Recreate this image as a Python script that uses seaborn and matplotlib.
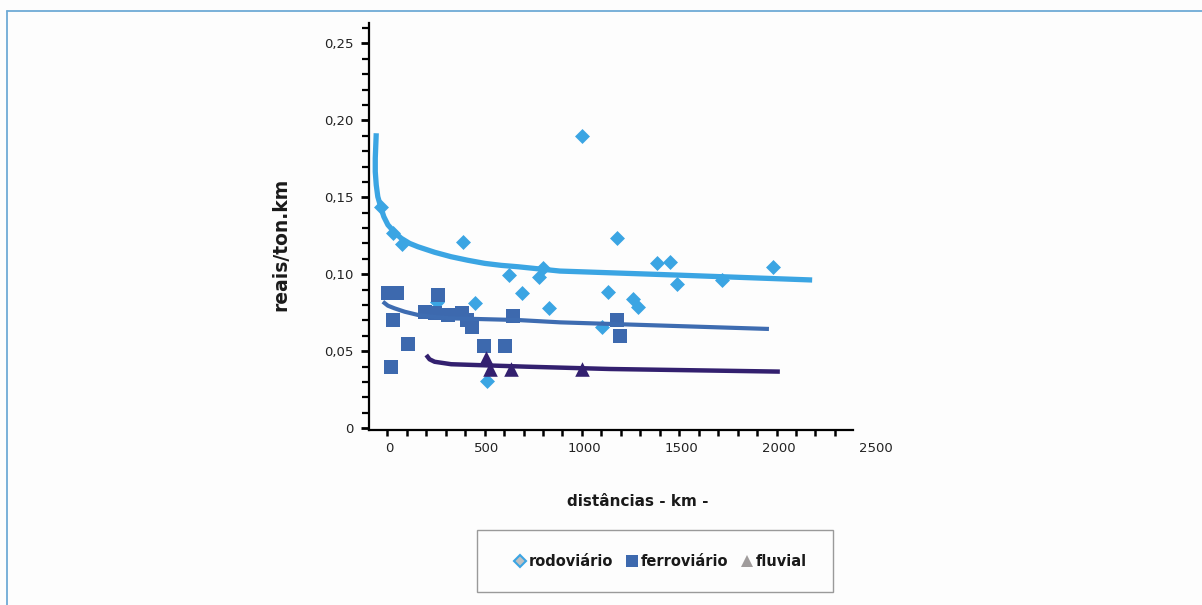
import matplotlib
matplotlib.use("Agg")
import matplotlib.pyplot as plt
import seaborn as sns
import pandas as pd
from matplotlib.lines import Line2D
from matplotlib.patches import Rectangle

# pontos (km, reais/ton.km)
rodo_km = [-40, 20, 63, 380, 615, 769, 788, 680, 440, 820, 246, 500, 1094, 1122,
           988, 1168, 1374, 1442, 1253, 1276, 1481, 1708, 1970]
rodo_custo = [0.1435, 0.1266, 0.1197, 0.1212, 0.0995, 0.0984, 0.1043, 0.0877, 0.0812,
              0.0779, 0.0822, 0.0307, 0.0660, 0.0887, 0.1900, 0.1238, 0.1071, 0.1078,
              0.0838, 0.0790, 0.0937, 0.0963, 0.1045]

ferro_km = [-6, 38, 251, 20, 94, 7, 183, 234, 303, 372, 397, 423, 634, 486, 594, 1168, 1185]
ferro_custo = [0.0877, 0.0877, 0.0866, 0.0703, 0.0545, 0.0400, 0.0757, 0.0747, 0.0736,
               0.0747, 0.0703, 0.0660, 0.0729, 0.0534, 0.0534, 0.0703, 0.0599]

fluvial_km = [495, 517, 628, 988]
fluvial_custo = [0.0455, 0.0385, 0.0385, 0.0385]

# linhas de tendência
rodo_tend_km = [-67, -72, -72, -67, -59, -42, -28, -7, 27, 61, 104, 147, 233, 318, 404,
                490, 575, 661, 877, 1476, 2173]
rodo_tend = [0.1916, 0.1753, 0.1666, 0.1580, 0.1504, 0.1429, 0.1374, 0.1321, 0.1273,
             0.1234, 0.1201, 0.1179, 0.1143, 0.1114, 0.1091, 0.1071, 0.1058, 0.1049,
             0.1021, 0.0995, 0.0963]
ferro_tend_km = [-33, -7, 27, 79, 147, 233, 318, 661, 877, 1951]
ferro_tend = [0.0822, 0.0796, 0.0779, 0.0757, 0.0736, 0.0723, 0.0714, 0.0703, 0.0688,
              0.0645]
fluvial_tend_km = [190, 207, 233, 318, 706, 1134, 2007]
fluvial_tend = [0.0476, 0.0448, 0.0432, 0.0416, 0.0400, 0.0385, 0.0368]

xticks = [0, 500, 1000, 1500, 2000, 2500]
xtick_labels = ["0", "500", "1000", "1500", "2000", "2500"]
yticks = [0, 0.05, 0.10, 0.15, 0.20, 0.25]
ytick_labels = ["0", "0,05", "0,10", "0,15", "0,20", "0,25"]
modos = ["rodoviário", "ferroviário", "fluvial"]

c_rodo = "#3BA5E3"
c_ferro = "#3D69AE"
c_fluv = "#33206F"

sns.set_style("ticks")
plt.rcParams['font.family'] = ['DejaVu Sans']

fig = plt.figure(figsize=(12.02, 6.05), dpi=100, facecolor="#fdfdfd")
ax = fig.add_axes([0.3067, 0.2893, 0.4300, 0.6727])
ax.set_facecolor("none")

rodo = pd.DataFrame({"km": rodo_km, "custo": rodo_custo})
ferro = pd.DataFrame({"km": ferro_km, "custo": ferro_custo})
fluv = pd.DataFrame({"km": fluvial_km, "custo": fluvial_custo})

sns.scatterplot(data=rodo, x="km", y="custo", marker="D", s=58, color=c_rodo,
                linewidth=0, ax=ax, zorder=3)
sns.scatterplot(data=ferro, x="km", y="custo", marker="s", s=105, color=c_ferro,
                linewidth=0, ax=ax, zorder=4)
sns.scatterplot(data=fluv, x="km", y="custo", marker="^", s=110, color=c_fluv,
                linewidth=0, ax=ax, zorder=5)

linha = dict(sort=False, estimator=None, ax=ax, solid_joinstyle="round",
             solid_capstyle="butt")
sns.lineplot(x=rodo_tend_km, y=rodo_tend, color=c_rodo, linewidth=3.8, zorder=3, **linha)
sns.lineplot(x=ferro_tend_km, y=ferro_tend, color="#3E6CB1", linewidth=3.0, zorder=4, **linha)
sns.lineplot(x=fluvial_tend_km, y=fluvial_tend, color=c_fluv, linewidth=3.2, zorder=5, **linha)

ax.set_xlim(-106, 2550)
ax.set_ylim(-0.0011, 0.2632)
sns.despine(ax=ax)
ax.spines["bottom"].set_bounds(-106, 2382)
for s in ["left", "bottom"]:
    ax.spines[s].set_linewidth(1.6)
    ax.spines[s].set_color("black")

ax.set_xticks(xticks)
ax.set_xticklabels(xtick_labels)
ax.set_xticks([-10 + 100 * k for k in range(24)], minor=True)
ax.tick_params(axis="x", which="major", length=0, pad=9, labelsize=9.5, labelcolor="#222222")
ax.tick_params(axis="x", which="minor", length=4, width=1.8, color="black")

ax.set_yticks(yticks)
ax.set_yticklabels(ytick_labels)
ax.set_yticks([k / 100 for k in range(27)], minor=True)
ax.tick_params(axis="y", which="major", length=6, width=2, pad=5, labelsize=9.5,
               labelcolor="#222222", color="black")
ax.tick_params(axis="y", which="minor", length=5, width=1.6, color="black")
ax.grid(False)

ax.set_ylabel("reais/ton.km", fontsize=13.5, fontweight="bold", color="#1a1a1a")
ax.yaxis.set_label_coords(-0.152, 0.455)
ax.set_xlabel("distâncias - km -", fontsize=11, fontweight="bold", color="#1a1a1a")
ax.xaxis.set_label_coords(0.52, -0.158)

# legenda
handles = [
    Line2D([], [], marker="D", linestyle="none", markersize=6.5,
           markerfacecolor="#C0C0C0", markeredgecolor=c_rodo, markeredgewidth=1.5),
    Line2D([], [], marker="s", linestyle="none", markersize=8.5,
           markerfacecolor=c_ferro, markeredgewidth=0),
    Line2D([], [], marker="^", linestyle="none", markersize=8,
           markerfacecolor="#A09C9C", markeredgewidth=0),
]
fig.legend(handles, modos, loc="center", bbox_to_anchor=(0.5497, 0.0724), ncol=3,
           frameon=False, handlelength=0.8, handletextpad=0.2, columnspacing=0.9,
           prop={"size": 10.5, "weight": "bold"}, labelcolor="#1a1a1a")
fig.add_artist(Rectangle((476.7 / 1202, 1 - 592.3 / 605), 356 / 1202, 62.3 / 605,
                         transform=fig.transFigure, fill=False, edgecolor="#9a9a9a",
                         linewidth=1.0))

# moldura
fig.add_artist(Line2D([6.5 / 1202, 6.5 / 1202], [0, 1 - 10.5 / 605],
                      transform=fig.transFigure, color="#6FAAD6", linewidth=1.3))
fig.add_artist(Line2D([6.5 / 1202, 1], [1 - 10.5 / 605, 1 - 10.5 / 605],
                      transform=fig.transFigure, color="#6FAAD6", linewidth=1.3))

fig.savefig("out.png", dpi=100, facecolor=fig.get_facecolor())
